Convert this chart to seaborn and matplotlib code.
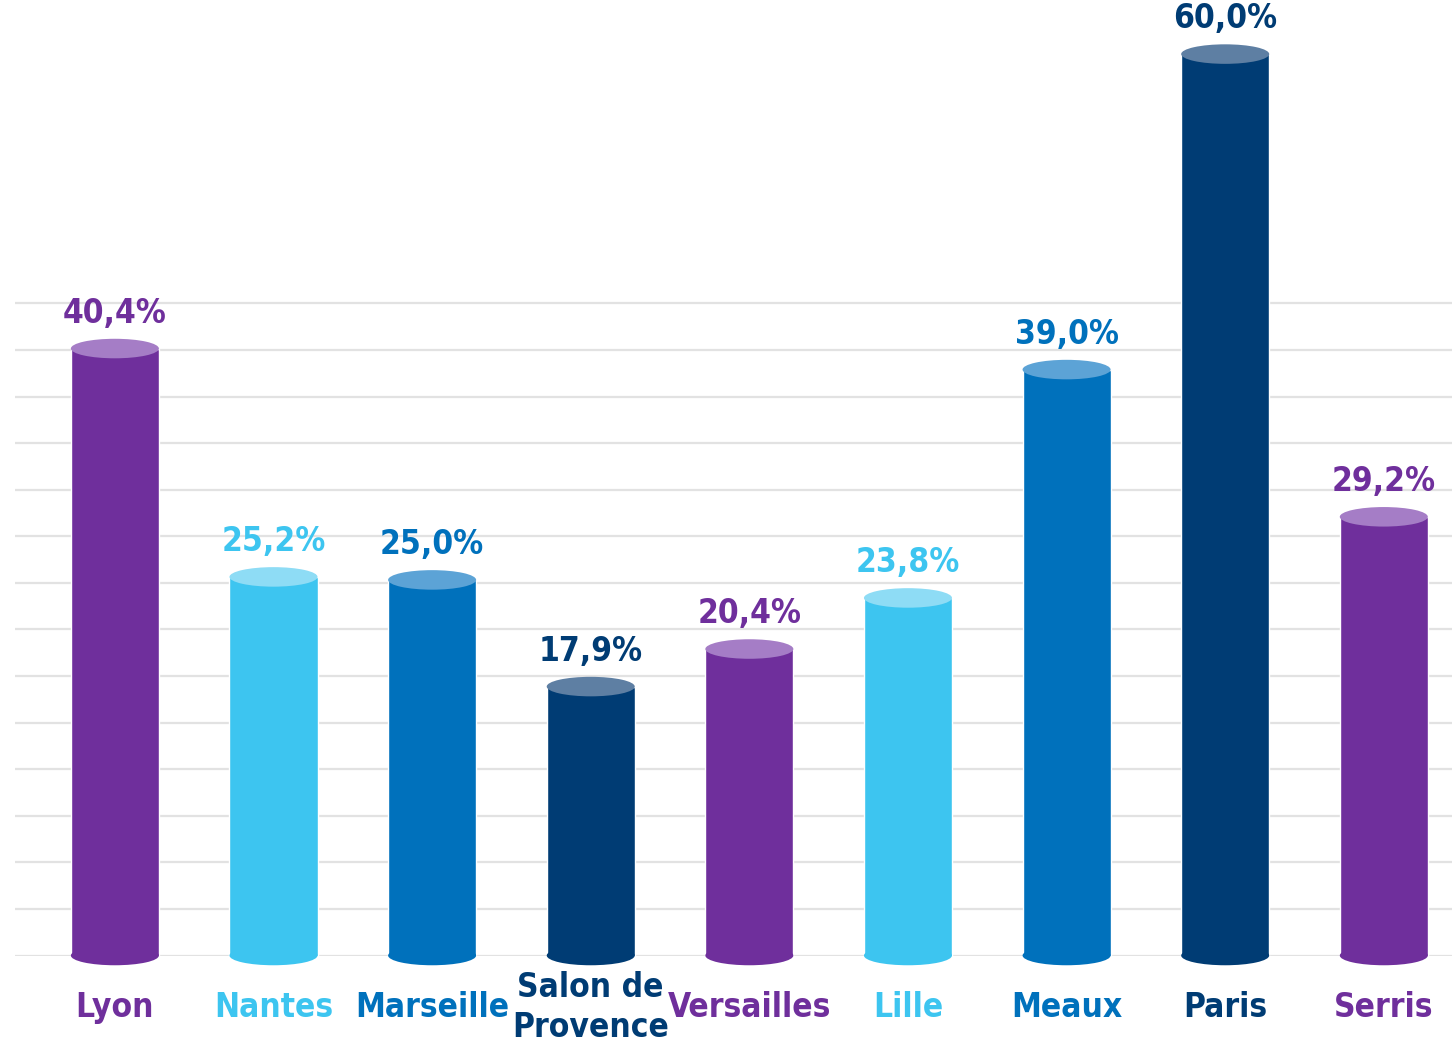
import numpy as np
import matplotlib
matplotlib.use("Agg")
import matplotlib.pyplot as plt
import seaborn as sns
from matplotlib.patches import Ellipse

# data
cities = ["Lyon", "Nantes", "Marseille", "Salon de\nProvence", "Versailles",
          "Lille", "Meaux", "Paris", "Serris"]
values = [40.4, 25.2, 25.0, 17.9, 20.4, 23.8, 39.0, 60.0, 29.2]
labels = ["40,4%", "25,2%", "25,0%", "17,9%", "20,4%", "23,8%", "39,0%", "60,0%", "29,2%"]

# colour per city: body, cap
body_colors = ["#6F2F9C", "#3DC5F0", "#0071BC", "#003C74", "#6F2F9C",
               "#3DC5F0", "#0071BC", "#003C74", "#6F2F9C"]
cap_colors = ["#A57DC6", "#8EDCF5", "#5CA3D6", "#5E7FA3", "#A57DC6",
              "#8EDCF5", "#5CA3D6", "#5E7FA3", "#A57DC6"]

sns.set_style("white")
plt.rcParams["font.family"] = ["DejaVu Sans"]
plt.rcParams["font.stretch"] = "condensed"

fig = plt.figure(figsize=(14.52, 10.5), dpi=100)
ax = fig.add_axes([0.0103, 0.09, 0.9897, 0.91])

sns.barplot(x=cities, y=values, hue=cities, palette=body_colors, legend=False,
            width=0.555, saturation=1, ax=ax, zorder=3)

ax.set_xlim(-0.63, 8.43)
ax.set_ylim(0, 63.6)

# light horizontal guide lines (lower part only, like the original)
ax.set_yticks(np.arange(15) * 3.1)
ax.yaxis.grid(True, color="#e2e2e2", linewidth=1.6)
ax.set_axisbelow(True)
ax.tick_params(axis="y", left=False, labelleft=False)
sns.despine(ax=ax, left=True, bottom=True, top=True, right=True)

cap_h = 1.3
for i, p in enumerate(ax.patches):
    cx = p.get_x() + p.get_width() / 2
    w = p.get_width()
    h = p.get_height()
    # rounded bottom
    ax.add_patch(Ellipse((cx, 0), w, cap_h, facecolor=body_colors[i],
                         edgecolor="none", zorder=3, clip_on=False))
    # lighter top
    ax.add_patch(Ellipse((cx, h), w, cap_h, facecolor=cap_colors[i],
                         edgecolor="none", zorder=4))
    ax.text(cx, h + cap_h / 2 + 0.6, labels[i], ha="center", va="bottom",
            fontsize=24, fontweight="bold", fontstretch="condensed",
            color=body_colors[i], zorder=5)

ax.set_xticks(range(len(cities)))
ax.set_xticklabels(cities, fontsize=24, fontweight="bold",
                   fontstretch="condensed", linespacing=1.25)
for lbl, c in zip(ax.get_xticklabels(), body_colors):
    lbl.set_color(c)
    lbl.set_va("center")
ax.tick_params(axis="x", bottom=False, pad=34)
ax.set_xlabel("")
ax.set_ylabel("")

fig.savefig("out.png", dpi=100)
